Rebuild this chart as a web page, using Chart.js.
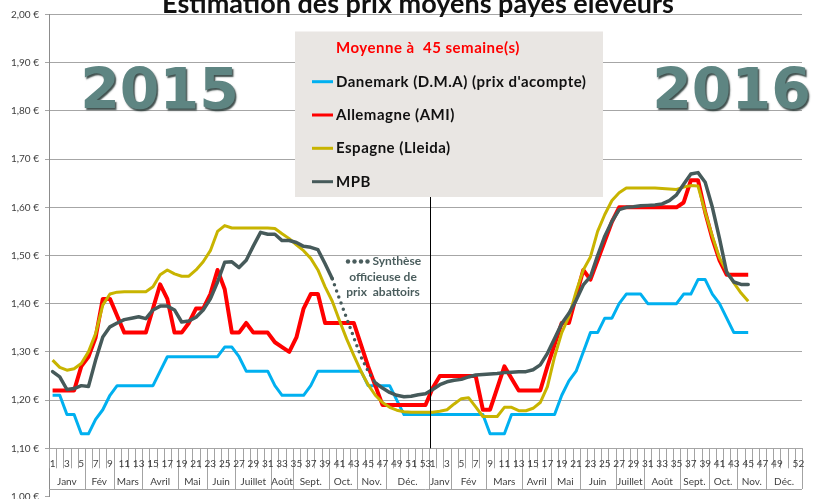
<!DOCTYPE html>
<html>
<head>
<meta charset="utf-8">
<script src="https://cdn.jsdelivr.net/npm/chart.js@4.4.1/dist/chart.umd.min.js"></script>
<style>
  html, body { margin: 0; padding: 0; width: 820px; height: 499px; overflow: hidden; background: #fff; }
  #wrap { position: relative; width: 820px; height: 510px; }
</style>
</head>
<body>
<div id="wrap"><canvas id="myChart"></canvas></div>
<script>
// prices (€/kg) per week: 2015 = weeks 1-53, 2016 = weeks 1-45
const danemark2015 = [1.21, 1.21, 1.17, 1.17, 1.13, 1.13, 1.16, 1.18, 1.21, 1.23,
    1.23, 1.23, 1.23, 1.23, 1.23, 1.26, 1.29, 1.29, 1.29, 1.29,
    1.29, 1.29, 1.29, 1.29, 1.31, 1.31, 1.29, 1.26, 1.26, 1.26,
    1.26, 1.23, 1.21, 1.21, 1.21, 1.21, 1.23, 1.26, 1.26, 1.26,
    1.26, 1.26, 1.26, 1.26, 1.23, 1.23, 1.23, 1.23, 1.20, 1.17,
    1.17, 1.17, 1.17];
const danemark2016 = [1.17, 1.17, 1.17, 1.17, 1.17, 1.17, 1.17, 1.17, 1.13, 1.13,
    1.13, 1.17, 1.17, 1.17, 1.17, 1.17, 1.17, 1.17, 1.21, 1.24,
    1.26, 1.30, 1.34, 1.34, 1.37, 1.37, 1.40, 1.42, 1.42, 1.42,
    1.40, 1.40, 1.40, 1.40, 1.40, 1.42, 1.42, 1.45, 1.45, 1.42,
    1.40, 1.37, 1.34, 1.34, 1.34];

const allemagne2015 = [1.22, 1.22, 1.22, 1.22, 1.27, 1.29, 1.33, 1.41, 1.41, 1.375,
    1.34, 1.34, 1.34, 1.34, 1.39, 1.44, 1.41, 1.34, 1.34, 1.36,
    1.39, 1.39, 1.42, 1.47, 1.43, 1.34, 1.34, 1.36, 1.34, 1.34,
    1.34, 1.32, 1.31, 1.30, 1.33, 1.39, 1.42, 1.42, 1.36, 1.36,
    1.36, 1.36, 1.36, 1.315, 1.27, 1.23, 1.19, 1.19, 1.19, 1.19,
    1.19, 1.19, 1.19];
const allemagne2016 = [1.225, 1.25, 1.25, 1.25, 1.25, 1.25, 1.25, 1.18, 1.18, 1.225,
    1.27, 1.245, 1.22, 1.22, 1.22, 1.22, 1.27, 1.315, 1.36, 1.36,
    1.415, 1.47, 1.45, 1.49, 1.53, 1.57, 1.60, 1.60, 1.60, 1.60,
    1.60, 1.60, 1.60, 1.60, 1.60, 1.61, 1.656, 1.656, 1.59, 1.535,
    1.49, 1.46, 1.46, 1.46, 1.46];

const espagne2015 = [1.283, 1.268, 1.262, 1.265, 1.276, 1.30, 1.338, 1.397, 1.42, 1.424,
    1.425, 1.425, 1.425, 1.425, 1.435, 1.46, 1.47, 1.462, 1.457, 1.457,
    1.47, 1.487, 1.51, 1.55, 1.562, 1.557, 1.557, 1.557, 1.557, 1.557,
    1.557, 1.556, 1.545, 1.535, 1.522, 1.51, 1.494, 1.47, 1.435, 1.405,
    1.365, 1.327, 1.293, 1.26, 1.232, 1.21, 1.195, 1.185, 1.179, 1.176,
    1.175, 1.175, 1.175];
const espagne2016 = [1.175, 1.177, 1.18, 1.192, 1.203, 1.205, 1.186, 1.166, 1.166, 1.166,
    1.185, 1.185, 1.178, 1.178, 1.183, 1.195, 1.228, 1.29, 1.34, 1.373,
    1.425, 1.47, 1.497, 1.55, 1.585, 1.614, 1.63, 1.64, 1.64, 1.64,
    1.64, 1.64, 1.639, 1.638, 1.637, 1.642, 1.645, 1.644, 1.59, 1.54,
    1.495, 1.467, 1.443, 1.422, 1.405];

const mpb2015 = [1.259, 1.248, 1.222, 1.224, 1.23, 1.228, 1.283, 1.331, 1.352, 1.36,
    1.367, 1.37, 1.373, 1.369, 1.387, 1.395, 1.395, 1.387, 1.362, 1.364,
    1.372, 1.387, 1.41, 1.445, 1.486, 1.487, 1.475, 1.49, 1.52, 1.548,
    1.544, 1.544, 1.531, 1.531, 1.527, 1.519, 1.517, 1.512, 1.483, 1.452,
    1.41, 1.37, 1.33, 1.29, 1.26, 1.236, 1.225, 1.216, 1.21, 1.207,
    1.208, 1.211, 1.213];
const mpb2016 = [1.222, 1.232, 1.238, 1.241, 1.243, 1.248, 1.252, 1.253, 1.254, 1.255,
    1.257, 1.258, 1.259, 1.259, 1.263, 1.273, 1.297, 1.328, 1.359, 1.38,
    1.407, 1.439, 1.456, 1.50, 1.54, 1.571, 1.595, 1.60, 1.601, 1.603,
    1.604, 1.605, 1.607, 1.614, 1.626, 1.648, 1.669, 1.672, 1.652, 1.60,
    1.535, 1.465, 1.445, 1.44, 1.44];

// x axis: two years of weeks, week numbers shown, month groups
const weeks2015 = 53;
const weeks2016 = 52;
const shownWeeks2015 = [1, 3, 5, 7, 9, 11, 13, 15, 17, 19, 21, 23, 25, 27, 29, 31, 33, 35, 37, 39, 41, 43, 45, 47, 49, 51, 53];
const shownWeeks2016 = [1, 3, 5, 7, 9, 11, 13, 15, 17, 19, 21, 23, 25, 27, 29, 31, 33, 35, 37, 39, 41, 43, 45, 47, 49, 52];
const monthNames = ['Janv', 'Fév', 'Mars', 'Avril', 'Mai', 'Juin', 'Juillet', 'Août', 'Sept.', 'Oct.', 'Nov.', 'Déc.'];
const monthWeeks2015 = [5, 4, 4, 5, 4, 4, 5, 3, 5, 4, 4, 6];
const monthWeeks2016 = [3, 5, 5, 4, 4, 5, 4, 5, 4, 4, 4, 5];

const labels = [];
for (let w = 1; w <= weeks2015; w++) labels.push('2015 S' + w);
for (let w = 1; w <= weeks2016; w++) labels.push('2016 S' + w);

const FONT = 'Lato, "Liberation Sans", sans-serif';
Chart.defaults.font.family = FONT;

const line = (ctx, x1, y1, x2, y2) => {
    ctx.beginPath();
    ctx.moveTo(x1, y1);
    ctx.lineTo(x2, y2);
    ctx.stroke();
};

const decor = {
    id: 'decor',
    afterDraw(chart) {
        const ctx = chart.ctx;
        const xs = chart.scales.x, ys = chart.scales.y;
        const area = chart.chartArea;
        const step = xs.getPixelForValue(1) - xs.getPixelForValue(0);
        const edge = i => xs.getPixelForValue(i) - step / 2;
        const yAxis = ys.getPixelForValue(1.1);
        const yBot = ys.getPixelForValue(1.0) - 7.5;
        ctx.save();

        // title (cut by the top edge)
        ctx.fillStyle = '#111';
        ctx.font = 'bold 27px ' + FONT;
        ctx.textAlign = 'center';
        ctx.textBaseline = 'alphabetic';
        ctx.fillText('Estimation des prix moyens payés éleveurs', 418, 12.5);

        // big year labels
        ctx.font = 'bold 57px "DejaVu Sans", sans-serif';
        ctx.shadowColor = 'rgba(30,48,46,0.85)';
        ctx.shadowOffsetX = 1.5;
        ctx.shadowOffsetY = 1.5;
        ctx.shadowBlur = 1.5;
        ctx.fillStyle = '#5e8582';
        ctx.fillText('2015', 159.5, 109);
        ctx.fillText('2016', 731.5, 109);
        ctx.shadowColor = 'transparent';

        // year separator
        ctx.strokeStyle = '#000';
        ctx.lineWidth = 1;
        const xSep = Math.round(edge(weeks2015)) + 1.5;
        line(ctx, xSep, 40, xSep, yAxis);

        // category axis: week ticks, month separators, labels
        ctx.strokeStyle = '#a3a3a3';
        for (let i = 0; i <= labels.length; i++) {
            const px = Math.round(edge(i)) + 0.5;
            line(ctx, px, yAxis, px, yAxis + 20);
        }
        const groups = [];
        let start = 0;
        monthWeeks2015.concat(monthWeeks2016).forEach((n, k) => {
            groups.push({ name: monthNames[k % 12], from: start, to: start + n });
            start += n;
        });
        groups.forEach(g => {
            const px = Math.round(edge(g.to)) + 0.5;
            line(ctx, px, yAxis, px, yBot);
        });
        line(ctx, area.left, Math.round(yBot) + 0.5, area.right, Math.round(yBot) + 0.5);

        ctx.fillStyle = '#404040';
        ctx.font = '10px ' + FONT;
        ctx.textBaseline = 'middle';
        shownWeeks2015.forEach(w => ctx.fillText(String(w), xs.getPixelForValue(w - 1), yAxis + 15));
        shownWeeks2016.forEach(w => ctx.fillText(String(w), xs.getPixelForValue(weeks2015 + w - 1), yAxis + 15));
        groups.forEach(g => ctx.fillText(g.name, (edge(g.from) + edge(g.to)) / 2, yAxis + 33));

        // note about the dotted section of MPB
        ctx.fillStyle = '#4a5d5d';
        [348, 354.5, 361, 367.5].forEach(cx => {
            ctx.beginPath();
            ctx.arc(cx, 261.5, 2.2, 0, Math.PI * 2);
            ctx.fill();
        });
        ctx.font = 'bold 12px ' + FONT;
        ctx.textAlign = 'left';
        ctx.fillText('Synthèse', 372.5, 261.5);
        ctx.textAlign = 'center';
        ctx.fillText('officieuse de', 383, 277);
        ctx.fillText('prix  abattoirs', 383, 292);

        // legend box
        ctx.fillStyle = '#e9e6e3';
        ctx.fillRect(295, 31.5, 308, 165.5);
        ctx.textAlign = 'left';
        ctx.letterSpacing = '0.5px';
        ctx.fillStyle = '#ff0000';
        ctx.font = 'bold 15px ' + FONT;
        ctx.fillText('Moyenne à  45 semaine(s)', 336, 48.5);
        const rows = [81.7, 115, 148.3, 181.7];
        chart.data.datasets.forEach((ds, k) => {
            ctx.strokeStyle = ds.borderColor;
            ctx.lineWidth = 3;
            line(ctx, 312, rows[k], 333, rows[k]);
            ctx.fillStyle = '#111';
            ctx.fillText(ds.label, 336, rows[k]);
        });
        ctx.letterSpacing = '0px';
        ctx.restore();
    }
};

const data = {
    labels: labels,
    datasets: [
        {
            label: "Danemark (D.M.A) (prix d'acompte)",
            data: danemark2015.concat(danemark2016),
            borderColor: '#00b0f0',
            borderWidth: 3,
            order: 4
        },
        {
            label: 'Allemagne (AMI)',
            data: allemagne2015.concat(allemagne2016),
            borderColor: '#ff0000',
            borderWidth: 4,
            order: 3
        },
        {
            label: 'Espagne (Lleida)',
            data: espagne2015.concat(espagne2016),
            borderColor: '#c8b400',
            borderWidth: 3,
            order: 2
        },
        {
            label: 'MPB',
            data: mpb2015.concat(mpb2016),
            borderColor: '#465a5a',
            borderWidth: 3.5,
            borderCapStyle: 'round',
            order: 1,
            // weeks 40 to 46 of 2015: unofficial estimate, dotted
            segment: {
                borderDash: ctx => (ctx.p0DataIndex >= 39 && ctx.p0DataIndex <= 44) ? [0, 6.5] : undefined
            }
        }
    ]
};

const config = {
    type: 'line',
    data: data,
    options: {
        responsive: true,
        maintainAspectRatio: false,
        animation: false,
        layout: { padding: { left: 0, right: 18, top: 14.5, bottom: 13.5 } },
        elements: {
            point: { radius: 0 },
            line: { tension: 0, borderJoinStyle: 'round' }
        },
        scales: {
            x: { type: 'category', display: false, offset: true },
            y: {
                min: 1.0,
                max: 2.0,
                afterFit(scale) { scale.width = 49; },
                ticks: {
                    stepSize: 0.1,
                    padding: 6,
                    color: '#404040',
                    font: { size: 10 },
                    callback: v => (Math.round(v * 100) / 100).toFixed(2).replace('.', ',') + ' €'
                },
                grid: {
                    color: c => (c.tick && c.tick.value < 1.05) ? 'rgba(0,0,0,0)' : '#a6a6a6',
                    tickColor: '#a6a6a6',
                    tickLength: 4
                },
                border: { color: '#8c8c8c' }
            }
        },
        plugins: {
            legend: { display: false },
            title: { display: false },
            tooltip: { enabled: false }
        }
    },
    plugins: [decor]
};

const myChart = new Chart(document.getElementById('myChart'), config);
</script>
</body>
</html>
